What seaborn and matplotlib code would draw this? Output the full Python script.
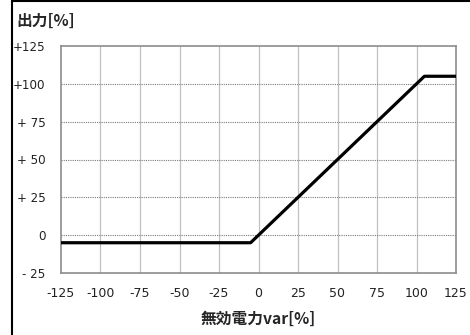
import matplotlib
matplotlib.use("Agg")
import matplotlib.pyplot as plt
from matplotlib.lines import Line2D
import seaborn as sns
import pandas as pd

# Output vs. reactive power characteristic
reactive_power = [-125, -5, 105, 125]
output = [-5, -5, 105, 105]

x_ticks = [-125, -100, -75, -50, -25, 0, 25, 50, 75, 100, 125]
x_tick_labels = ["-125", "-100", "-75", "-50", "-25", "0", "25", "50", "75", "100", "125"]
y_ticks = [125, 100, 75, 50, 25, 0, -25]
y_tick_labels = ["+125", "+100", "+ 75", "+ 50", "+ 25", "0", "- 25"]

sns.set_style("white")
plt.rcParams["font.family"] = ["Noto Sans CJK JP", "DejaVu Sans"]

df = pd.DataFrame({"var": reactive_power, "out": output})

fig = plt.figure(figsize=(4.7, 3.35), dpi=100)
ax = fig.add_axes([61 / 470, 1 - 273 / 335, 395 / 470, 227 / 335])

sns.lineplot(data=df, x="var", y="out", ax=ax, color="black", linewidth=2.3,
             zorder=5)

ax.set_xlim(-125, 125)
ax.set_ylim(-25, 125)
ax.set_xticks(x_ticks)
ax.set_xticklabels(x_tick_labels, fontsize=9, family="DejaVu Sans", color="#222222")
ax.set_yticks(y_ticks)
ax.set_yticklabels(y_tick_labels, fontsize=8.6, family="DejaVu Sans", color="#222222")
ax.tick_params(axis="both", length=0)
ax.tick_params(axis="x", pad=10)
ax.tick_params(axis="y", pad=11)

# vertical grid solid, horizontal grid dotted
for xv in x_ticks[1:-1]:
    ax.axvline(xv, color="#c0c0c0", linewidth=0.9, zorder=1)
for yv in y_ticks[1:-1]:
    ax.axhline(yv, color="#7a7a7a", linewidth=0.8, linestyle=(0, (1, 1)), zorder=1)

for s in ax.spines.values():
    s.set_color("#8c8c8c")
    s.set_linewidth(1.2)

ax.set_xlabel("無効電力var[%]", fontsize=11.3, fontweight="bold", labelpad=8)
ax.set_ylabel("")
fig.text(16 / 470, 1 - 21 / 335, "出力[%]", fontsize=11.3, fontweight="bold",
         va="center", ha="left")

# frame lines on the left and top edges of the figure
fig.add_artist(Line2D([11.5 / 470, 11.5 / 470], [0, 1], color="black", linewidth=1.5,
                      transform=fig.transFigure))
fig.add_artist(Line2D([11.5 / 470, 1], [1 - 1 / 335, 1 - 1 / 335], color="black",
                      linewidth=1.5, transform=fig.transFigure))

fig.savefig("out.png", dpi=100)
